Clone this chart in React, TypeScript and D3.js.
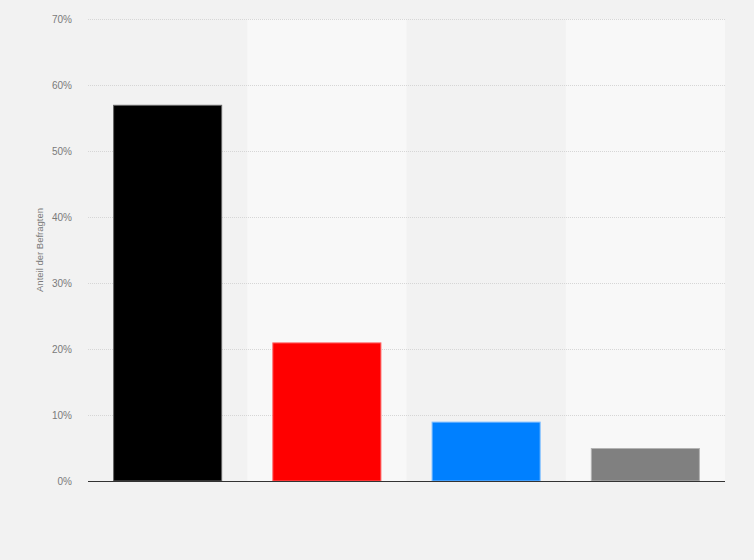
import React from "react";
import * as d3 from "d3";

const categories = ["A", "B", "C", "D"];
const values = [57, 21, 9, 5];
const colors = ["#000000", "#ff0000", "#0080ff", "#808080"];
const strokes = ["#666666", "#ff6666", "#80bfff", "#b3b3b3"];
const yTicks = [0, 10, 20, 30, 40, 50, 60, 70];
const yTitle = "Anteil der Befragten";

const W = 754;
const H = 560;
const M = { left: 88, right: 29, top: 19, bottom: 79 };

export default function App() {
  const x = d3
    .scaleBand<string>()
    .domain(categories)
    .range([M.left, W - M.right])
    .paddingInner(0.315)
    .paddingOuter(0.1575);
  const bands = d3
    .scaleBand<string>()
    .domain(categories)
    .range([M.left, W - M.right]);
  const y = d3.scaleLinear().domain([0, 70]).range([H - M.bottom, M.top]);
  const font = "Arial, 'Liberation Sans', sans-serif";
  return (
    <svg
      width={W}
      height={H}
      style={{ position: "absolute", left: 0, top: 0, display: "block" }}
    >
      <rect x={0} y={0} width={W} height={H} fill="#f2f2f2" />
      {categories.map((c, i) =>
        i % 2 === 1 ? (
          <rect
            key={c}
            x={bands(c)}
            y={M.top}
            width={bands.bandwidth()}
            height={H - M.bottom - M.top}
            fill="#f8f8f8"
          />
        ) : null
      )}
      {yTicks.map((t) => (
        <g key={t}>
          {t > 0 && (
            <line
              x1={M.left}
              x2={W - M.right}
              y1={y(t) + 0.5}
              y2={y(t) + 0.5}
              stroke="#d6d6d6"
              strokeDasharray="1,1"
            />
          )}
          <text
            x={72}
            y={y(t) + 3.5}
            textAnchor="end"
            fontSize={10}
            fill="#7a7a7a"
            fontFamily={font}
          >
            {t}%
          </text>
        </g>
      ))}
      <text
        transform={`translate(43,${(M.top + H - M.bottom) / 2}) rotate(-90)`}
        textAnchor="middle"
        fontSize={9.5}
        fill="#7a7a7a"
        fontFamily={font}
      >
        {yTitle}
      </text>
      {categories.map((c, i) => (
        <rect
          key={c}
          x={(x(c) as number) + 0.5}
          y={y(values[i]) + 0.5}
          width={x.bandwidth() - 1}
          height={y(0) - y(values[i]) - 0.5}
          fill={colors[i]}
          stroke={strokes[i]}
          strokeWidth={1}
        />
      ))}
      <line
        x1={M.left}
        x2={W - M.right}
        y1={y(0) + 0.5}
        y2={y(0) + 0.5}
        stroke="#333"
        strokeWidth={1.2}
      />
    </svg>
  );
}
